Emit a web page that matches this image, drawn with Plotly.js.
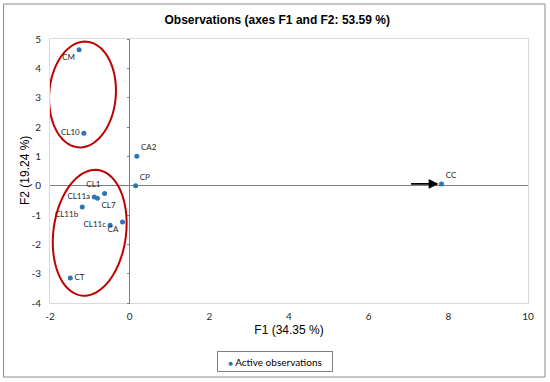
<!DOCTYPE html>
<html>
<head>
<meta charset="utf-8">
<script src="https://cdn.plot.ly/plotly-3.0.1.min.js"></script>
<style>html,body{margin:0;padding:0;background:#fff}#chart{width:550px;height:382px}</style>
</head>
<body>
<div id="chart"></div>
<script>
// ---- data ----
const obsLabels = ["CM", "CL10", "CA2", "CP", "CL1", "CL11a", "CL7", "CL11b", "CL11c", "CA", "CT", "CC"];
const f1Values  = [-1.27, -1.15, 0.18, 0.15, -0.63, -0.89, -0.81, -1.19, -0.49, -0.18, -1.49, 7.83];
const f2Values  = [4.63, 1.79, 1.00, 0.00, -0.27, -0.39, -0.43, -0.73, -1.35, -1.24, -3.15, 0.06];
const labelPos  = ["bottom left", "middle left", "top right", "top right", "top left", "middle left",
                   "bottom right", "bottom left", "middle left", "bottom left", "middle right", "top right"];
const xTicks = [-2, 0, 2, 4, 6, 8, 10];
const yTicks = [-4, -3, -2, -1, 0, 1, 2, 3, 4, 5];
const seriesName = "Active observations";
const yTitle = "F2 (19.24 %)";

// ---- layout geometry ----
const W = 550, H = 382, M = {l: 50, r: 22, t: 39, b: 79};
const xRange = [-2, 10], yRange = [-4, 5];
const pxX = (W - M.l - M.r) / (xRange[1] - xRange[0]);
const pxY = (H - M.t - M.b) / (yRange[1] - yRange[0]);

// ellipse outline (annotation shape) given centre in pixels, semi-axes in pixels, tilt (deg from vertical)
function ellipsePath(cxPx, cyPx, a, b, tiltDeg) {
  const th = tiltDeg * Math.PI / 180;
  const toX = px => xRange[0] + (px - M.l) / pxX;
  const toY = py => yRange[1] - (py - M.t) / pxY;
  let d = "";
  for (let i = 0; i <= 96; i++) {
    const t = 2 * Math.PI * i / 96;
    const mx = a * Math.cos(t), mn = b * Math.sin(t);
    const px = cxPx + mx * Math.sin(th) + mn * Math.cos(th);
    const py = cyPx - mx * Math.cos(th) + mn * Math.sin(th);
    d += (i === 0 ? "M" : "L") + toX(px).toFixed(4) + "," + toY(py).toFixed(4);
  }
  return d + "Z";
}

const tickFont = {family: "Lato, 'Liberation Sans', sans-serif", size: 10, color: "#262626"};
const titleFont = {family: "'Liberation Sans', Arial, sans-serif", size: 12, color: "#000"};
const markerColor = "#2E75B6";

const trace = {
  type: "scatter", mode: "markers+text",
  x: f1Values, y: f2Values, text: obsLabels, textposition: labelPos,
  textfont: {family: "Lato, 'Liberation Sans', sans-serif", size: 8, color: "#262626"},
  marker: {color: markerColor, size: 5},
  name: seriesName, showlegend: false, cliponaxis: false
};
const tickTrace = {type: "scatter", x: [], y: [], yaxis: "y2", showlegend: false, hoverinfo: "skip"};

const toPaperX = px => (px - M.l) / (W - M.l - M.r);
const toPaperY = py => (H - M.b - py) / (H - M.t - M.b);

const layout = {
  width: W, height: H,
  margin: M,
  paper_bgcolor: "#fff", plot_bgcolor: "#fff",
  title: {text: "<b>Observations (axes F1 and F2: 53.59 %)</b>", font: titleFont,
          x: 0.504, xanchor: "center", y: 1 - 20 / H, yanchor: "middle"},
  xaxis: {range: xRange, tickvals: xTicks, ticktext: xTicks.map(String), showgrid: false,
          zeroline: true, zerolinecolor: "#7f7f7f", zerolinewidth: 1,
          showline: true, mirror: true, linecolor: "#d9d9d9", linewidth: 1,
          ticks: "", tickfont: tickFont, ticklabelstandoff: 4, automargin: true,
          title: {text: "F1 (34.35 %)", font: titleFont, standoff: 4}},
  yaxis: {range: yRange, tickvals: yTicks, ticktext: yTicks.map(String), showgrid: false,
          zeroline: true, zerolinecolor: "#7f7f7f", zerolinewidth: 1,
          showline: true, mirror: true, linecolor: "#d9d9d9", linewidth: 1,
          ticks: "", tickfont: tickFont, ticklabelstandoff: 6, automargin: false},
  yaxis2: {range: yRange, tickvals: yTicks, overlaying: "y", anchor: "free",
           position: (0 - xRange[0]) / (xRange[1] - xRange[0]), side: "left",
           showticklabels: false, ticks: "outside", ticklen: 3, tickcolor: "#7f7f7f",
           showgrid: false, zeroline: false, showline: false, automargin: false},
  showlegend: false,
  shapes: [
    {type: "rect", xref: "paper", yref: "paper", x0: toPaperX(3.5), x1: toPaperX(545), y0: toPaperY(377), y1: toPaperY(4),
     line: {color: "#8c8c8c", width: 1}, layer: "below"},
    {type: "path", xref: "x", yref: "y", path: ellipsePath(82.5, 94.5, 53, 33.3, 4.5), line: {color: "#C00000", width: 2}},
    {type: "path", xref: "x", yref: "y", path: ellipsePath(89.7, 232.8, 63.3, 36.3, 7.5), line: {color: "#C00000", width: 2}}
  ],
  annotations: [
    {x: f1Values[11], y: f2Values[11], xref: "x", yref: "y", text: "", showarrow: true,
     ax: -32, ay: 0, arrowhead: 2, arrowsize: 1.1, arrowwidth: 1.8, arrowcolor: "#000", standoff: 3},
    {xref: "paper", yref: "paper", x: toPaperX(25), y: toPaperY(171), xanchor: "center", yanchor: "middle",
     showarrow: false, textangle: -90, text: yTitle, font: titleFont},
    {xref: "paper", yref: "paper", x: toPaperX(275), y: toPaperY(361), xanchor: "center", yanchor: "middle",
     showarrow: false, width: 108, height: 13, borderpad: 3, bordercolor: "#7f7f7f", borderwidth: 1, bgcolor: "#fff",
     text: "<span style='color:" + markerColor + ";font-size:8px'>●</span> " + seriesName,
     font: {family: "Lato, 'Liberation Sans', sans-serif", size: 10, color: "#000"}}
  ]
};

Plotly.newPlot("chart", [trace, tickTrace], layout, {displayModeBar: false, staticPlot: true});
</script>
</body>
</html>
